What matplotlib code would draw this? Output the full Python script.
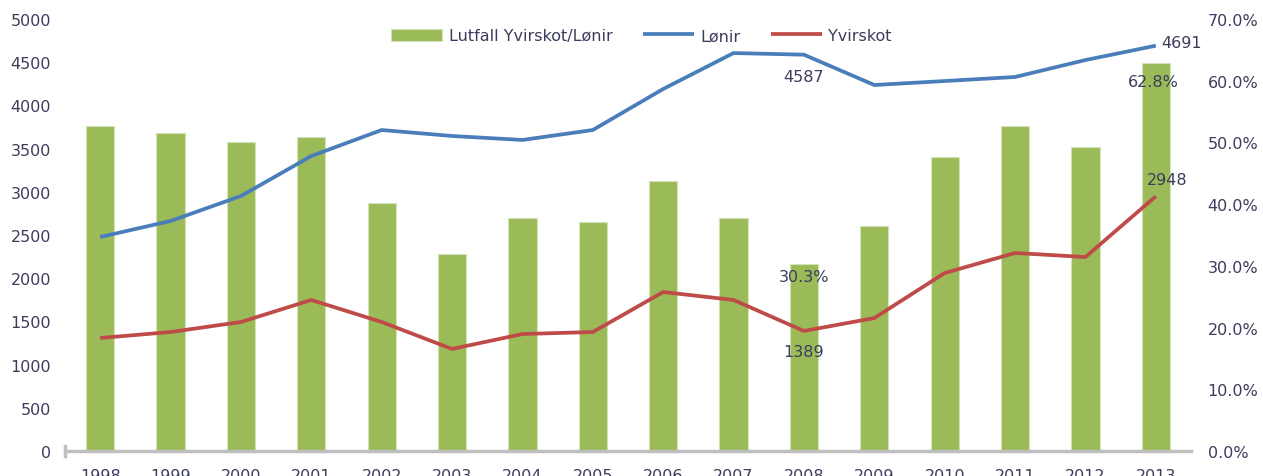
import matplotlib
matplotlib.use("Agg")
import matplotlib.pyplot as plt
import numpy as np

years = ["1998", "1999", "2000", "2001", "2002", "2003", "2004", "2005",
         "2006", "2007", "2008", "2009", "2010", "2011", "2012", "2013"]
lonir = [2477, 2662, 2951, 3414, 3715, 3646, 3600, 3715,
         4190, 4606, 4587, 4236, 4282, 4329, 4525, 4691]
yvirskot = [1308, 1377, 1493, 1748, 1493, 1181, 1354, 1377,
            1840, 1748, 1389, 1539, 2060, 2292, 2245, 2948]
lutfall = [52.7, 51.5, 50.1, 50.9, 40.2, 31.9, 37.8, 37.1,
           43.8, 37.8, 30.3, 36.5, 47.6, 52.7, 49.3, 62.8]

TXT = "#3c3c5c"
GREEN = "#9BBB59"
BLUE = "#4A7EBB"
RED = "#BE4B48"
FS = 11.5

plt.rcParams['font.family'] = ['DejaVu Sans']

fig = plt.figure(figsize=(12.63, 4.77), dpi=100)
ax = fig.add_axes([65/1263, 25/477, (1191-65)/1263, 432/477])
ax2 = ax.twinx()

x = np.arange(len(years))
ax2.bar(x, lutfall, width=0.4, color=GREEN, edgecolor="#d4e2b8", linewidth=0.8,
        label="Lutfall Yvirskot/Lønir")
ax2.set_ylim(0, 70)
ax2.set_yticks(np.arange(0, 71, 10))
ax2.set_yticklabels([f"{v:.1f}%" for v in np.arange(0, 71, 10)])

ax.plot(x, lonir, color=BLUE, lw=2.7, label="Lønir", solid_capstyle="butt")
ax.plot(x, yvirskot, color=RED, lw=2.7, label="Yvirskot", solid_capstyle="butt")
ax.set_ylim(0, 5000)
ax.set_yticks(np.arange(0, 5001, 500))
ax.set_xlim(-0.5, len(years) - 0.5)
ax.set_xticks(x)
ax.set_xticklabels(years)

ax.set_zorder(ax2.get_zorder() + 1)
ax.patch.set_visible(False)

for a in (ax, ax2):
    for s in ("top", "right", "left", "bottom"):
        a.spines[s].set_visible(False)
ax.spines["bottom"].set_visible(True)
ax.spines["bottom"].set_color("#bfbfbf")
ax.spines["bottom"].set_linewidth(2.5)

ax.tick_params(axis="y", length=0, labelsize=FS, labelcolor=TXT, pad=10)
ax.tick_params(axis="x", length=0, labelsize=FS, labelcolor=TXT, pad=12)
ax2.tick_params(axis="y", length=0, labelsize=FS, labelcolor=TXT, pad=12)

# left end tick on x axis
ax.plot([-0.5, -0.5], [-60, 60], color="#bfbfbf", lw=2.5, clip_on=False)

# annotations
i08 = years.index("2008")
i13 = years.index("2013")
ax.annotate(f"{lonir[i08]}", (x[i08], lonir[i08]), xytext=(0, -16),
            textcoords="offset points", ha="center", va="center", fontsize=FS, color=TXT)
ax.annotate(f"{lonir[i13]}", (x[i13], lonir[i13]), xytext=(4, 2),
            textcoords="offset points", ha="left", va="center", fontsize=FS, color=TXT)
ax.annotate(f"{yvirskot[i08]}", (x[i08], yvirskot[i08]), xytext=(0, -15),
            textcoords="offset points", ha="center", va="center", fontsize=FS, color=TXT)
ax.annotate(f"{yvirskot[i13]}", (x[i13], yvirskot[i13]), xytext=(8, 12),
            textcoords="offset points", ha="center", va="center", fontsize=FS, color=TXT)
ax2.annotate(f"{lutfall[i08]:.1f}%", (x[i08], lutfall[i08]), xytext=(0, -9),
             textcoords="offset points", ha="center", va="center", fontsize=FS, color=TXT)
ax2.annotate(f"{lutfall[i13]:.1f}%", (x[i13], lutfall[i13]), xytext=(-2, -13),
             textcoords="offset points", ha="center", va="center", fontsize=FS, color=TXT)

h1, l1 = ax2.get_legend_handles_labels()
h2, l2 = ax.get_legend_handles_labels()
leg = ax.legend(h1 + h2, l1 + l2, loc="upper center", bbox_to_anchor=(0.512, 1.012),
                ncol=3, frameon=False, fontsize=FS, labelcolor=TXT,
                handlelength=3.2, handleheight=0.8, columnspacing=1.9, handletextpad=0.4)

fig.savefig("out.png", dpi=100)
